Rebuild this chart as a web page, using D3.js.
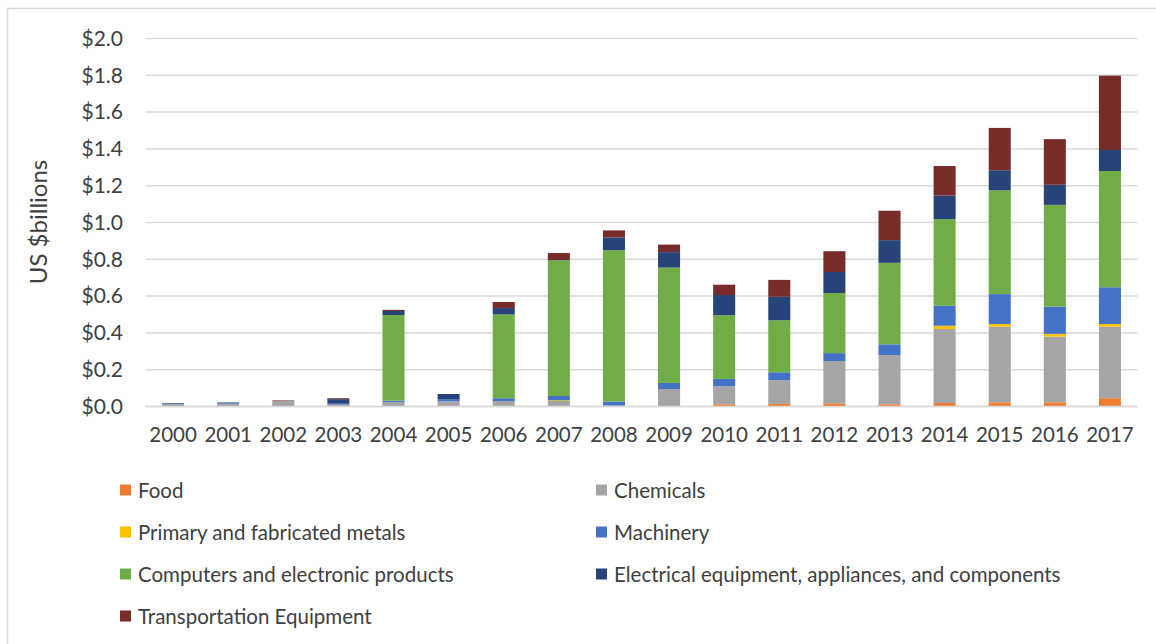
<!DOCTYPE html>
<html><head><meta charset="utf-8">
<script src="https://cdn.jsdelivr.net/npm/d3@7"></script>
<style>body{margin:0;background:#fff}svg{display:block}text{font-family:Lato,"Open Sans",sans-serif;fill:#404040}</style>
</head><body><svg id="c" width="1156" height="644"></svg>
<script>
const years = ["2000","2001","2002","2003","2004","2005","2006","2007","2008","2009","2010","2011","2012","2013","2014","2015","2016","2017"];
const seriesNames = ["Food","Chemicals","Primary and fabricated metals","Machinery","Computers and electronic products","Electrical equipment, appliances, and components","Transportation Equipment"];
const seriesColors = ["#ED7D31","#A5A5A5","#FFC000","#4472C4","#70AD47","#264478","#772C2A"];
const food      = [0,0,0,0,0,0,0,0,0,0.003,0.012,0.014,0.017,0.012,0.019,0.023,0.023,0.045];
const chemicals = [0.012,0.015,0.030,0.010,0.025,0.028,0.030,0.030,0.005,0.092,0.098,0.130,0.230,0.268,0.402,0.411,0.357,0.389];
const metals    = [0,0,0,0,0,0,0,0.004,0,0,0,0,0,0,0.018,0.014,0.015,0.014];
const machinery = [0.004,0.003,0,0.005,0.007,0.012,0.015,0.023,0.022,0.033,0.040,0.042,0.043,0.058,0.109,0.163,0.148,0.200];
const computers = [0,0,0,0,0.465,0,0.455,0.737,0.822,0.627,0.346,0.283,0.327,0.443,0.470,0.564,0.553,0.632];
const electrical= [0.003,0.004,0,0.025,0.022,0.028,0.035,0.002,0.070,0.084,0.110,0.127,0.114,0.123,0.128,0.109,0.109,0.114];
const transport = [0,0,0.003,0.005,0.006,0,0.033,0.038,0.038,0.041,0.056,0.092,0.113,0.160,0.161,0.230,0.248,0.404];
const yTicks = [0,0.2,0.4,0.6,0.8,1.0,1.2,1.4,1.6,1.8,2.0];

const seriesValues = [food,chemicals,metals,machinery,computers,electrical,transport];
const svg = d3.select("#c");

// frame
svg.append("rect").attr("x",7.5).attr("y",8.5).attr("width",1170).attr("height",660)
  .attr("fill","none").attr("stroke","#d9d9d9").attr("stroke-width",1.5);

const x = d3.scaleBand().domain(years).range([145.5,1137.5]).paddingInner(0.6).paddingOuter(0.3);
const y = d3.scaleLinear().domain([0,2.0]).range([406.5,38.5]);

// gridlines
svg.append("g").selectAll("line").data(yTicks).join("line")
  .attr("x1",145.5).attr("x2",1137.5).attr("y1",d=>y(d)).attr("y2",d=>y(d))
  .attr("stroke","#d9d9d9").attr("stroke-width",1.5);

// y tick labels
const yAxis = d3.axisLeft(y).tickValues(yTicks).tickFormat(d=>"$"+d3.format(".1f")(d)).tickSize(0).tickPadding(0);
const gy = svg.append("g").attr("transform","translate(123,0)").call(yAxis);
gy.select(".domain").remove();
gy.selectAll("text").style("font-family","Lato, 'Open Sans', sans-serif").style("font-size","21px").attr("fill","#404040");

// x axis labels
const xAxis = d3.axisBottom(x).tickSize(0).tickPadding(0);
const gx = svg.append("g").attr("transform","translate(0,427)").call(xAxis);
gx.select(".domain").remove();
gx.selectAll("text").style("font-family","Lato, 'Open Sans', sans-serif").style("font-size","20.5px").attr("fill","#404040");

// y title
svg.append("text").attr("transform","translate(37,222) rotate(-90)").attr("text-anchor","middle")
  .attr("dominant-baseline","central").style("font-size","24px").text("US $billions");

// stacked data
const table = years.map((yr,i)=>{const o={year:yr}; seriesNames.forEach((s,k)=>o[s]=seriesValues[k][i]); return o;});
const stack = d3.stack().keys(seriesNames)(table);
svg.append("g").selectAll("g").data(stack).join("g").attr("fill",(d,i)=>seriesColors[i])
  .selectAll("rect").data(d=>d).join("rect")
  .attr("x",d=>x(d.data.year)).attr("width",x.bandwidth())
  .attr("y",d=>y(d[1])).attr("height",d=>Math.max(0,y(d[0])-y(d[1])));

// baseline
svg.append("line").attr("x1",145.5).attr("x2",1137.5).attr("y1",y(0)).attr("y2",y(0)).attr("stroke","#d9d9d9").attr("stroke-width",1.5);

// legend
const legCols = [120,596], legRows = [490,532,574,616];
const leg = svg.append("g").selectAll("g").data(seriesNames).join("g")
  .attr("transform",(d,i)=>`translate(${legCols[i%2]},${legRows[Math.floor(i/2)]})`);
leg.append("rect").attr("x",0).attr("y",-5.5).attr("width",11).attr("height",11).attr("fill",(d,i)=>seriesColors[i]);
leg.append("text").attr("x",18).attr("y",0).attr("dominant-baseline","central").style("font-size","20.5px").text(d=>d);
</script></body></html>
